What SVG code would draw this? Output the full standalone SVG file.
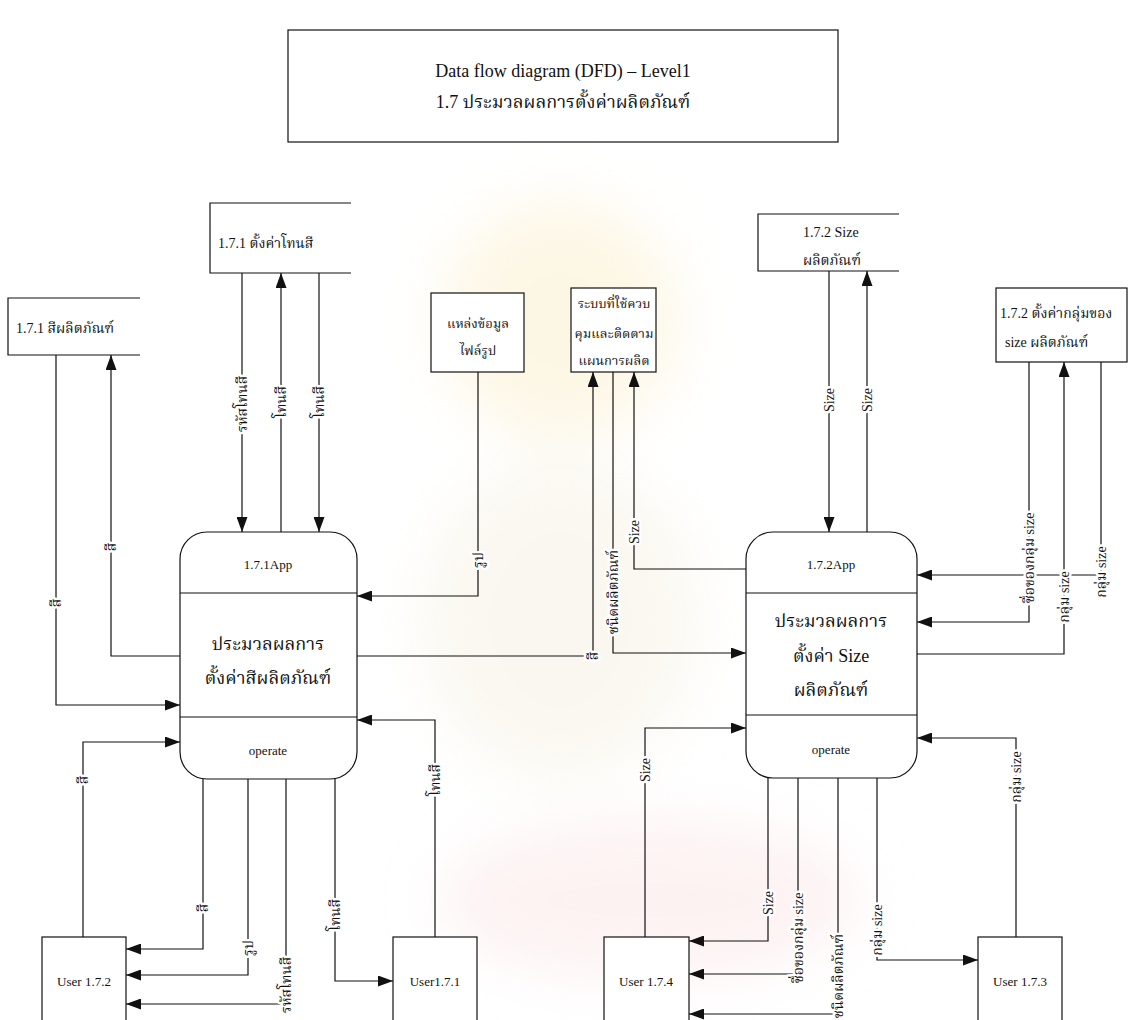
<svg xmlns="http://www.w3.org/2000/svg" width="1128" height="1020" viewBox="0 0 1128 1020">
  <defs>
    <marker id="ah" viewBox="0 0 15 11" refX="15" refY="5.5" markerWidth="15" markerHeight="11" markerUnits="userSpaceOnUse" orient="auto">
      <path d="M0,0 L15,5.5 L0,11 z" fill="#111"/>
    </marker>
    <filter id="soft" x="-50%" y="-50%" width="200%" height="200%">
      <feGaussianBlur stdDeviation="28"/>
    </filter>
    <style>
      .box { fill: #fff; stroke: #111; stroke-width: 1.2; }
      .store { fill: none; stroke: #111; stroke-width: 1.2; }
      .ln { fill: none; stroke: #111; stroke-width: 1.2; marker-end: url(#ah); }
      .sep { stroke: #111; stroke-width: 1.2; }
      text { font-family: "Liberation Serif", "Noto Serif Thai", "Noto Sans Thai", "Tlwg Typo", "DejaVu Serif", serif; fill: #111; }
      .t13 { font-size: 13px; }
      .t14 { font-size: 14px; }
      .big { font-size: 18px; text-anchor: middle; }
      .mid { text-anchor: middle; }
      .title { font-size: 18px; text-anchor: middle; }
      .lbl { font-size: 14px; text-anchor: middle; dominant-baseline: central; stroke: #fff; stroke-width: 5; paint-order: stroke; stroke-linejoin: round; }
    </style>
  </defs>

  <rect width="1128" height="1020" fill="#fff"/>

  <!-- faint background seal -->
  <g id="watermark" filter="url(#soft)" opacity="0.5">
    <ellipse cx="560" cy="320" rx="120" ry="120" fill="#fbefcc"/>
    <ellipse cx="560" cy="620" rx="140" ry="160" fill="#f6f1e2"/>
    <ellipse cx="650" cy="900" rx="210" ry="80" fill="#fbe6e6"/>
  </g>

  <!-- title -->
  <g id="title">
    <rect class="box" x="288" y="30" width="550" height="112"/>
    <text class="title" x="563" y="77">Data flow diagram (DFD) – Level1</text>
    <text class="title" x="563" y="108">1.7 ประมวลผลการตั้งค่าผลิตภัณฑ์</text>
  </g>

  <!-- data stores -->
  <g id="store-color">
    <path class="store" d="M140,298 H8 V355 H140"/>
    <text class="t14" x="16" y="333">1.7.1  สีผลิตภัณฑ์</text>
  </g>
  <g id="store-tone">
    <path class="store" d="M351,203 H210 V273 H351"/>
    <text class="t14" x="218" y="248">1.7.1  ตั้งค่าโทนสี</text>
  </g>
  <g id="store-image">
    <rect class="box" x="431" y="293" width="93" height="79"/>
    <text class="t13 mid" x="478" y="328">แหล่งข้อมูล</text>
    <text class="t13 mid" x="478" y="355">ไฟล์รูป</text>
  </g>
  <g id="store-plan">
    <rect class="box" x="571" y="288" width="85" height="84"/>
    <text class="t13 mid" x="614" y="308">ระบบที่ใช้ควบ</text>
    <text class="t13 mid" x="614" y="338">คุมและติดตาม</text>
    <text class="t13 mid" x="614" y="365">แผนการผลิต</text>
  </g>
  <g id="store-size">
    <path class="store" d="M899,214 H758 V271 H899"/>
    <text class="t14" x="803" y="237">1.7.2  Size</text>
    <text class="t14" x="803" y="265">ผลิตภัณฑ์</text>
  </g>
  <g id="store-size-group">
    <rect class="box" x="996" y="288" width="131" height="74"/>
    <text class="t14" x="1000" y="318">1.7.2  ตั้งค่ากลุ่มของ</text>
    <text class="t14" x="1005" y="347">size ผลิตภัณฑ์</text>
  </g>

  <!-- processes -->
  <g id="proc-171">
    <rect class="box" x="180" y="532" width="177" height="247" rx="27" ry="27"/>
    <line class="sep" x1="180" y1="593" x2="357" y2="593"/>
    <line class="sep" x1="180" y1="717" x2="357" y2="717"/>
    <text class="t13 mid" x="268" y="569">1.7.1App</text>
    <text class="big" x="268" y="650">ประมวลผลการ</text>
    <text class="big" x="268" y="684">ตั้งค่าสีผลิตภัณฑ์</text>
    <text class="t13 mid" x="268" y="755">operate</text>
  </g>
  <g id="proc-172">
    <rect class="box" x="746" y="532" width="171" height="246" rx="27" ry="27"/>
    <line class="sep" x1="746" y1="593" x2="917" y2="593"/>
    <line class="sep" x1="746" y1="715" x2="917" y2="715"/>
    <text class="t13 mid" x="831" y="569">1.7.2App</text>
    <text class="big" x="831" y="627">ประมวลผลการ</text>
    <text class="big" x="831" y="662">ตั้งค่า Size</text>
    <text class="big" x="831" y="696">ผลิตภัณฑ์</text>
    <text class="t13 mid" x="831" y="754">operate</text>
  </g>

  <!-- external entities -->
  <g id="user-172">
    <rect class="box" x="42" y="937" width="84" height="100"/>
    <text class="t13 mid" x="84" y="986">User 1.7.2</text>
  </g>
  <g id="user-171">
    <rect class="box" x="393" y="937" width="84" height="100"/>
    <text class="t13 mid" x="435" y="986">User1.7.1</text>
  </g>
  <g id="user-174">
    <rect class="box" x="604" y="937" width="85" height="100"/>
    <text class="t13 mid" x="646" y="986">User 1.7.4</text>
  </g>
  <g id="user-173">
    <rect class="box" x="978" y="937" width="84" height="100"/>
    <text class="t13 mid" x="1020" y="986">User 1.7.3</text>
  </g>

  <!-- data flows -->
  <g id="connectors">
    <path class="ln" d="M56,355 V705 H180"/>
    <path class="ln" d="M180,656 H111 V355"/>
    <path class="ln" d="M242,273 V532"/>
    <path class="ln" d="M281,532 V273"/>
    <path class="ln" d="M319,273 V532"/>
    <path class="ln" d="M478,372 V596 H357"/>
    <path class="ln" d="M357,656 H593 V372"/>
    <path class="ln" d="M613,372 V653 H746"/>
    <path class="ln" d="M746,569 H634 V372"/>
    <path class="ln" d="M829,271 V532"/>
    <path class="ln" d="M867,532 V271"/>
    <path class="ln" d="M1029,362 V622 H917"/>
    <path class="ln" d="M917,654 H1064 V362"/>
    <path class="ln" d="M1101,362 V575 H917"/>
    <path class="ln" d="M83,937 V742 H180"/>
    <path class="ln" d="M203,779 V949 H126"/>
    <path class="ln" d="M248,779 V975 H126"/>
    <path class="ln" d="M286,779 V1004 H126"/>
    <path class="ln" d="M335,779 V981 H393"/>
    <path class="ln" d="M435,937 V720 H357"/>
    <path class="ln" d="M645,937 V728 H746"/>
    <path class="ln" d="M768,778 V941 H689"/>
    <path class="ln" d="M798,778 V974 H689"/>
    <path class="ln" d="M838,778 V1014 H689"/>
    <path class="ln" d="M877,778 V960 H978"/>
    <path class="ln" d="M1016,937 V738 H917"/>

    <!-- flow labels, written upwards along their lines -->
    <g id="flow-labels">
      <text class="lbl" transform="translate(56,603) rotate(-90)">สี</text>
      <text class="lbl" transform="translate(111,547) rotate(-90)">สี</text>
      <text class="lbl" transform="translate(242,404) rotate(-90)">รหัสโทนสี</text>
      <text class="lbl" transform="translate(281,402) rotate(-90)">โทนสี</text>
      <text class="lbl" transform="translate(319,402) rotate(-90)">โทนสี</text>
      <text class="lbl" transform="translate(478,560) rotate(-90)">รูป</text>
      <text class="lbl" transform="translate(593,656) rotate(-90)">สี</text>
      <text class="lbl" transform="translate(613,592) rotate(-90)">ชนิดผลิตภัณฑ์</text>
      <text class="lbl" transform="translate(634,532) rotate(-90)">Size</text>
      <text class="lbl" transform="translate(829,400) rotate(-90)">Size</text>
      <text class="lbl" transform="translate(867,400) rotate(-90)">Size</text>
      <text class="lbl" transform="translate(1029,558) rotate(-90)">ชื่อของกลุ่ม size</text>
      <text class="lbl" transform="translate(1064,597) rotate(-90)">กลุ่ม size</text>
      <text class="lbl" transform="translate(1101,572) rotate(-90)">กลุ่ม size</text>
      <text class="lbl" transform="translate(83,780) rotate(-90)">สี</text>
      <text class="lbl" transform="translate(203,908) rotate(-90)">สี</text>
      <text class="lbl" transform="translate(248,948) rotate(-90)">รูป</text>
      <text class="lbl" transform="translate(286,985) rotate(-90)">รหัสโทนสี</text>
      <text class="lbl" transform="translate(335,915) rotate(-90)">โทนสี</text>
      <text class="lbl" transform="translate(435,780) rotate(-90)">โทนสี</text>
      <text class="lbl" transform="translate(645,770) rotate(-90)">Size</text>
      <text class="lbl" transform="translate(768,903) rotate(-90)">Size</text>
      <text class="lbl" transform="translate(798,938) rotate(-90)">ชื่อของกลุ่ม size</text>
      <text class="lbl" transform="translate(838,976) rotate(-90)">ชนิดผลิตภัณฑ์</text>
      <text class="lbl" transform="translate(877,930) rotate(-90)">กลุ่ม size</text>
      <text class="lbl" transform="translate(1016,777) rotate(-90)">กลุ่ม size</text>
    </g>
  </g>
</svg>
